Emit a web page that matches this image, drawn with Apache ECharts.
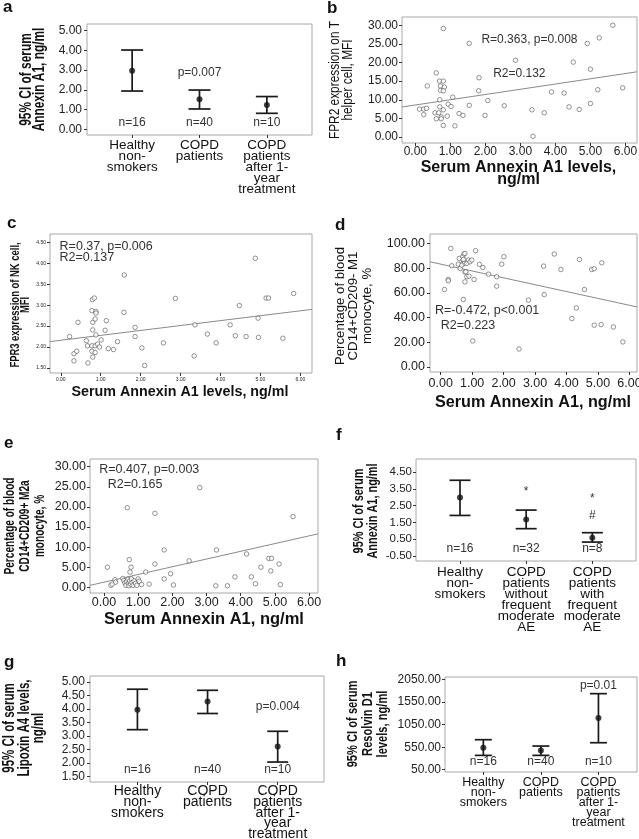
<!DOCTYPE html>
<html><head><meta charset="utf-8">
<script src="https://cdn.jsdelivr.net/npm/echarts@6/dist/echarts.min.js"></script>
<style>html,body{margin:0;padding:0;background:#fff}#chart{width:639px;height:839px}</style>
</head><body><div id="chart"></div>
<script>
// ---------- DATA ----------
const catsA = ['Healthy\nnon-\nsmokers', 'COPD\npatients', 'COPD\npatients\nafter 1-\nyear\ntreatment'];
const catsF = ['Healthy\nnon-\nsmokers', 'COPD\npatients\nwithout\nfrequent\nmoderate\nAE', 'COPD\npatients\nwith\nfrequent\nmoderate\nAE'];
const meanA = [2.97, 1.52, 1.23], lowA = [1.94, 1.03, 0.81], highA = [4.02, 1.99, 1.66];
const meanF = [2.99, 1.68, 0.59], lowF = [1.92, 1.13, 0.33], highF = [4.02, 2.24, 0.89];
const meanG = [3.97, 4.27, 2.61], lowG = [3.23, 3.83, 2.03], highG = [4.73, 4.69, 3.17];
const meanH = [539, 480, 1198], lowH = [369, 369, 650], highH = [717, 576, 1739];
const ticksA = [0, 1, 2, 3, 4, 5];
const ticksF = [-0.5, 0.5, 1.5, 2.5, 3.5, 4.5];
const ticksG = [1.5, 2, 2.5, 3, 3.5, 4, 4.5, 5];
const ticksH = [50, 550, 1050, 1550, 2050];
const ticksX = [0, 1, 2, 3, 4, 5, 6];
const ticksB = [0, 5, 10, 15, 20, 25, 30];
const ticksC = [1.5, 2, 2.5, 3, 3.5, 4, 4.5];
const ticksD = [0, 20, 40, 60, 80, 100];
const ticksE = [0, 5, 10, 15, 20, 25, 30];
const notesA = [[1, 0.34, 'n=16', 'c'], [2, 0.34, 'n=40', 'c'], [3, 0.34, 'n=10', 'c'], [2, 2.87, 'p=0.007', 'c']];
const notesF = [[1, -0.06, 'n=16', 'c'], [2, -0.06, 'n=32', 'c'], [3, -0.06, 'n=8', 'c'], [2, 3.31, '*', 'c'], [3, 2.93, '*', 'c'], [3, 1.88, '#', 'c']];
const notesG = [[1, 1.75, 'n=16', 'c'], [2, 1.75, 'n=40', 'c'], [3, 1.75, 'n=10', 'c'], [3, 4.07, 'p=0.004', 'c']];
const notesH = [[1, 220, 'n=16', 'c'], [2, 220, 'n=40', 'c'], [3, 220, 'n=10', 'c'], [3, 1924, 'p=0.01', 'c']];
const notesB = [[3.26, 26.0, 'R=0.363, p=0.008', 'c'], [2.97, 17.0, 'R2=0.132', 'c']];
const notesC = [[-0.03, 4.41, 'R=0.37, p=0.006', 'l'], [-0.03, 4.14, 'R2=0.137', 'l']];
const notesD = [[-0.18, 45.9, 'R=-0.472, p<0.001', 'l'], [0.0, 33.8, 'R2=0.223', 'l']];
const notesE = [[-0.14, 29.3, 'R=0.407, p=0.003', 'l'], [0.11, 25.6, 'R2=0.165', 'l']];
const fitB = [[-0.38, 8.06], [6.33, 17.5]];
const fitC = [[-0.27, 2.13], [6.29, 2.90]];
const fitD = [[-0.34, 85.1], [6.24, 48.6]];
const fitE = [[-0.41, 0.5], [6.26, 13.3]];
const ptsB = [[0.80,29.1],[1.54,25.1],[2.86,20.6],[0.60,17.2],[0.69,15.0],[0.80,15.0],[0.34,13.7],[0.72,13.7],[0.83,13.4],[0.72,12.5],[0.80,12.4],[1.82,15.9],[1.81,12.4],[1.07,10.7],[0.70,10.0],[2.07,9.8],[0.94,8.8],[1.02,8.2],[1.54,8.5],[2.54,8.4],[0.70,8.1],[0.12,7.5],[0.24,7.5],[0.32,7.7],[0.56,6.5],[0.67,6.5],[0.80,7.3],[1.25,6.3],[1.36,5.8],[0.24,6.0],[0.60,4.9],[0.74,5.4],[0.74,4.9],[0.91,5.6],[0.80,3.1],[1.13,3.0],[1.99,5.8],[3.33,7.3],[3.68,6.5],[3.36,0.2],[3.89,12.1],[4.25,11.8],[4.39,8.1],[4.68,7.4],[4.51,20.1],[4.91,25.1],[5.25,26.6],[5.00,18.2],[5.00,9.0],[5.21,12.7],[5.64,30.0],[5.92,13.2]];
const ptsC = [[0.22,2.25],[0.33,1.84],[0.33,1.67],[0.40,1.90],[0.43,2.59],[0.64,2.15],[0.67,2.03],[0.68,1.62],[0.78,2.03],[0.78,1.90],[0.79,3.13],[0.84,3.17],[0.78,2.87],[0.80,2.59],[0.80,2.41],[0.80,1.76],[0.86,2.03],[0.88,2.85],[0.88,2.81],[0.86,2.67],[0.88,2.29],[0.86,1.87],[0.92,2.07],[0.97,2.00],[1.01,2.17],[1.11,2.40],[1.14,2.63],[1.19,1.96],[1.32,1.94],[1.42,2.13],[1.59,3.72],[1.58,2.83],[1.86,2.47],[1.86,2.25],[2.03,1.98],[2.10,1.56],[2.57,2.10],[2.87,3.16],[3.34,1.79],[3.36,2.53],[3.67,2.31],[3.89,2.10],[4.24,2.53],[4.37,2.27],[4.47,2.99],[4.64,2.25],[4.87,4.12],[4.95,2.23],[4.94,2.69],[5.14,3.17],[5.20,3.17],[5.56,2.21],[5.83,3.28]];
const ptsD = [[0.32,95.9],[0.35,81.9],[0.12,62.7],[0.24,70.8],[0.24,69.7],[0.56,83.2],[0.59,87.8],[0.62,79.7],[0.70,89.2],[0.72,87.0],[0.74,91.4],[0.77,91.9],[0.70,83.8],[0.75,83.8],[0.83,83.8],[0.67,82.4],[0.88,86.5],[0.93,85.1],[0.77,77.0],[0.80,77.0],[0.83,73.0],[0.90,73.5],[0.77,68.9],[0.72,54.6],[0.99,86.5],[1.06,70.8],[1.11,94.1],[1.23,83.0],[1.34,80.5],[1.52,75.1],[1.78,73.0],[1.78,65.4],[1.94,83.2],[2.01,89.2],[1.02,21.1],[2.49,14.6],[2.79,54.1],[3.27,81.6],[3.29,58.6],[3.61,91.4],[3.82,78.9],[4.17,39.2],[4.31,47.8],[4.41,87.0],[4.57,62.7],[4.80,78.9],[4.88,79.5],[4.88,33.8],[5.10,34.3],[5.12,84.3],[5.49,32.4],[5.79,20.3]];
const ptsE = [[0.10,5.0],[0.20,0.5],[0.24,0.8],[0.32,1.9],[0.34,1.3],[0.55,2.2],[0.58,1.7],[0.61,1.1],[0.64,0.5],[0.66,1.5],[0.68,19.8],[0.70,2.0],[0.71,0.9],[0.73,0.4],[0.74,6.9],[0.75,1.6],[0.76,3.8],[0.78,0.8],[0.79,5.0],[0.80,2.1],[0.82,1.2],[0.85,0.5],[0.88,1.6],[0.92,1.0],[0.96,0.5],[1.00,2.1],[1.03,1.5],[1.10,0.7],[1.22,3.8],[1.32,0.8],[1.49,5.8],[1.49,18.4],[1.76,9.3],[1.76,2.1],[1.95,3.4],[2.03,0.6],[2.49,6.6],[2.80,24.8],[3.29,9.3],[3.27,0.4],[3.61,0.4],[3.83,2.6],[4.17,8.3],[4.31,2.6],[4.43,0.9],[4.59,5.0],[4.82,7.2],[4.90,7.2],[4.88,4.1],[5.12,5.8],[5.16,0.7],[5.53,17.6]];

// ---------- STYLE / LAYOUT ----------
const SANS = "'Liberation Sans', Arial, sans-serif";
const TXT = '#222';
const option = { animation: false, backgroundColor: '#fff', grid: [], xAxis: [], yAxis: [], series: [], graphic: [] };

function baseAxis(i, min, max, ticks, fmt, lab) {
  return {
    gridIndex: i, type: 'value', min: min, max: max,
    axisLine: { show: false, onZero: false }, splitLine: { show: false },
    axisTick: { show: true, customValues: ticks, length: 3, lineStyle: { color: '#333', width: 1 } },
    axisLabel: Object.assign({ customValues: ticks, formatter: fmt, color: TXT, fontFamily: SANS }, lab)
  };
}
function addGrid(g) {
  const i = option.grid.length;
  option.grid.push({ left: g.left, top: g.top, width: g.width, height: g.height, show: true,
    borderColor: '#a8a8a8', borderWidth: 1, backgroundColor: 'transparent', containLabel: false, outerBoundsMode: 'none' });
  return i;
}
function addNotes(i, notes, size) {
  option.series.push({
    type: 'custom', xAxisIndex: i, yAxisIndex: i, silent: true, z: 5,
    data: notes.map(n => [n[0], n[1]]),
    encode: { x: 0, y: 1 },
    renderItem: (params, api) => {
      const n = notes[params.dataIndex];
      const p = api.coord([api.value(0), api.value(1)]);
      return { type: 'text', x: p[0], y: p[1],
        style: { text: n[2], font: size + 'px ' + SANS, fill: '#333', align: n[3] === 'l' ? 'left' : 'center', verticalAlign: 'middle' } };
    }
  });
}
function catPanel(g, cats, mean, low, high, ticks, notes, fmt) {
  const i = addGrid(g);
  option.xAxis.push(baseAxis(i, g.xMin, g.xMax, [1, 2, 3], v => cats[Math.round(v) - 1],
    { fontSize: g.catFont, lineHeight: g.catLH, margin: g.catMargin, color: '#111' }));
  option.yAxis.push(baseAxis(i, g.yMin, g.yMax, ticks, fmt, { fontSize: g.tickFont, margin: g.yMargin }));
  option.series.push({
    type: 'custom', xAxisIndex: i, yAxisIndex: i, z: 3,
    data: cats.map((c, k) => [k + 1, low[k], high[k]]),
    encode: { x: 0, y: [1, 2] },
    renderItem: (params, api) => {
      const x = api.value(0);
      const a = api.coord([x, api.value(2)]), b = api.coord([x, api.value(1)]);
      const hw = g.cap / 2, st = { stroke: '#1a1a1a', lineWidth: 1.7 };
      return { type: 'group', children: [
        { type: 'line', shape: { x1: a[0], y1: a[1], x2: b[0], y2: b[1] }, style: st },
        { type: 'line', shape: { x1: a[0] - hw, y1: a[1], x2: a[0] + hw, y2: a[1] }, style: st },
        { type: 'line', shape: { x1: b[0] - hw, y1: b[1], x2: b[0] + hw, y2: b[1] }, style: st }
      ]};
    }
  });
  option.series.push({ type: 'scatter', xAxisIndex: i, yAxisIndex: i, z: 4, symbolSize: 6,
    itemStyle: { color: '#111' }, data: mean.map((m, k) => [k + 1, m]) });
  addNotes(i, notes, 12);
}
function scatPanel(g, pts, fit, ticksY, notes) {
  const i = addGrid(g);
  option.xAxis.push(baseAxis(i, g.xMin, g.xMax, ticksX, v => v.toFixed(2), { fontSize: g.tickFont, margin: g.xMargin }));
  option.yAxis.push(baseAxis(i, g.yMin, g.yMax, ticksY, v => v.toFixed(2), { fontSize: g.tickFont, margin: g.yMargin }));
  option.series.push({ type: 'line', xAxisIndex: i, yAxisIndex: i, data: fit, symbol: 'none', z: 2,
    lineStyle: { color: '#8a8a8a', width: 1 } });
  option.series.push({ type: 'scatter', xAxisIndex: i, yAxisIndex: i, data: pts, symbol: 'circle', symbolSize: 4.5, z: 3,
    itemStyle: { color: '#fff', borderColor: '#555', borderWidth: 0.8 } });
  addNotes(i, notes, g.noteFont);
}
const f2 = v => v.toFixed(2);

catPanel({ left: 87, top: 24, width: 225, height: 111, xMin: 0.33, xMax: 3.67, yMin: -0.29, yMax: 5.34, cap: 22,
  catFont: 13.5, catLH: 11, catMargin: 5, tickFont: 12, yMargin: 5 }, catsA, meanA, lowA, highA, ticksA, notesA, f2);
scatPanel({ left: 402, top: 17, width: 235, height: 126, xMin: -0.38, xMax: 6.33, yMin: -1.6, yMax: 32.2,
  tickFont: 12, xMargin: 3, yMargin: 4, noteFont: 12 }, ptsB, fitB, ticksB, notesB);
scatPanel({ left: 50, top: 234, width: 262, height: 139, xMin: -0.27, xMax: 6.29, yMin: 1.38, yMax: 4.70,
  tickFont: 5, xMargin: 4, yMargin: 4, noteFont: 12.5 }, ptsC, fitC, ticksC, notesC);
scatPanel({ left: 430, top: 234, width: 207, height: 138, xMin: -0.34, xMax: 6.24, yMin: -4.05, yMax: 107.6,
  tickFont: 12.5, xMargin: 5, yMargin: 5, noteFont: 12.5 }, ptsD, fitD, ticksD, notesD);
scatPanel({ left: 90, top: 459, width: 228, height: 134, xMin: -0.41, xMax: 6.26, yMin: -1.4, yMax: 31.9,
  tickFont: 12.5, xMargin: 3, yMargin: 4, noteFont: 12.5 }, ptsE, fitE, ticksE, notesE);
catPanel({ left: 416, top: 459, width: 220, height: 102, xMin: 0.335, xMax: 3.66, yMin: -0.80, yMax: 5.29, cap: 21,
  catFont: 13.5, catLH: 11, catMargin: 6, tickFont: 11.5, yMargin: 4 }, catsF, meanF, lowF, highF, ticksF, notesF, f2);
catPanel({ left: 90, top: 676, width: 234, height: 106, xMin: 0.324, xMax: 3.66, yMin: 1.29, yMax: 5.22, cap: 21,
  catFont: 14, catLH: 10.7, catMargin: 4, tickFont: 12, yMargin: 5 }, catsA, meanG, lowG, highG, ticksG, notesG, f2);
catPanel({ left: 445, top: 677, width: 192, height: 95, xMin: 0.334, xMax: 3.67, yMin: 0, yMax: 2109, cap: 17,
  catFont: 12.5, catLH: 10, catMargin: 6, tickFont: 12, yMargin: 4 }, catsA, meanH, lowH, highH, ticksH, notesH, f2);

// ---------- TEXT (panel letters & axis titles) ----------
function txt(x, y, text, font, el, style) {
  option.graphic.push(Object.assign({ type: 'text', x: x, y: y, silent: true,
    style: Object.assign({ text: text, font: font, fill: '#111', align: 'center', verticalAlign: 'middle' }, style || {}) },
    el || {}));
}
[['a', 3, 16], ['b', 327, 17], ['c', 7, 232], ['d', 335, 234], ['e', 4, 452], ['f', 336, 444], ['g', 4, 671], ['h', 336, 670]]
  .forEach(l => txt(l[1], l[2], l[0], "bold 17px " + SANS, null, { align: 'left', verticalAlign: 'bottom' }));

// rotated axis titles; sx condenses along the text, sy thickens across it
function ytitle(x, y, text, font, lh, sx, sy) {
  txt(x, y, text, font, { rotation: Math.PI / 2, scaleX: sx, scaleY: sy }, { lineHeight: lh });
}
ytitle(33.5, 79.5, '95% CI of serum\nAnnexin A1, ng/ml', "bold 14.5px " + SANS, 11.6, 0.82, 1.12);
ytitle(341.5, 80, 'FPR2 expression on T\nhelper cell, MFI', "12.5px " + SANS, 11.6, 0.95, 1.12);
ytitle(20, 305, 'FPR3 expression of NK cell,\nMFI', "bold 11.5px " + SANS, 9, 0.82, 1.12);
ytitle(353.5, 306, 'Percentage of blood\nCD14+CD209- M1\nmonocyte, %', "13.2px " + SANS, 13.5, 1, 1);
ytitle(25, 526, 'Percentage of blood\nCD14+CD209+ M2a\nmonocyte, %', "bold 12.3px " + SANS, 13.4, 0.82, 1.12);
ytitle(366, 511, '95% CI of serum\nAnnexin A1, ng/ml', "bold 13.3px " + SANS, 12.5, 0.82, 1.12);
ytitle(24.5, 728, '95% CI of serum\nLipoxin A4 levels,\nng/ml', "bold 14px " + SANS, 13, 0.82, 1.12);
ytitle(368, 724, '95% CI of serum\nResolvin D1\nlevels, ng/ml', "bold 13.6px " + SANS, 13.4, 0.82, 1.12);

txt(518.5, 174, 'Serum Annexin A1 levels,\nng/ml', "bold 16px " + SANS, null, { lineHeight: 12 });
txt(180, 392, 'Serum Annexin A1 levels, ng/ml', "bold 14.3px " + SANS);
txt(533, 403, 'Serum Annexin A1, ng/ml', "bold 16.2px " + SANS);
txt(204, 619, 'Serum Annexin A1, ng/ml', "bold 16.5px " + SANS);

const chart = echarts.init(document.getElementById('chart'), null, { renderer: 'canvas' });
chart.setOption(option);
</script>
</body></html>
